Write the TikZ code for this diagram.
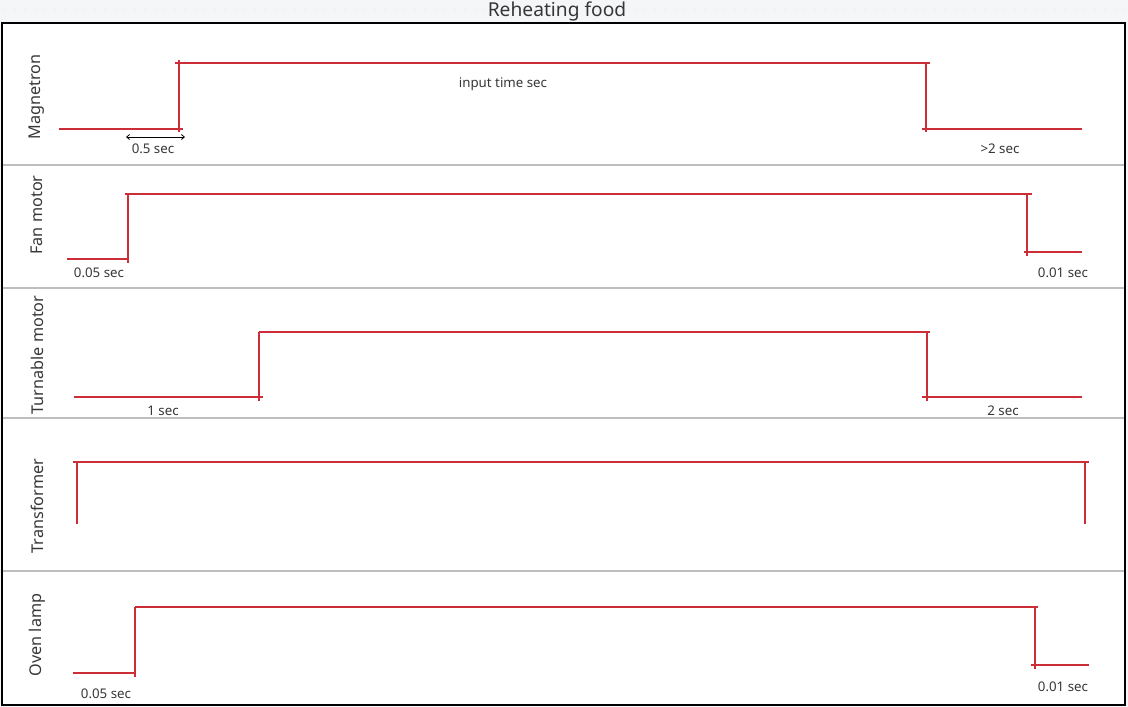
\documentclass[tikz,border=0pt]{standalone}
\usepackage{fontspec}
\setmainfont{Noto Sans}
\usetikzlibrary{arrows.meta}
\definecolor{sigred}{RGB}{205,45,55}
\definecolor{txt}{RGB}{55,55,55}
\definecolor{divgray}{RGB}{190,190,190}
\definecolor{bgtop}{RGB}{245,246,248}
\definecolor{dotc}{RGB}{222,224,228}
\begin{document}
\begin{tikzpicture}[x=1pt,y=-1pt,
  sig/.style={draw=sigred,line width=1.5pt},
  lanelabel/.style={text=txt,font=\fontsize{16.2}{19}\selectfont,rotate=90,inner sep=0pt},
  small/.style={text=txt,font=\fontsize{13.3}{16}\selectfont,inner sep=0pt},
  divider/.style={draw=divgray,line width=1.2pt},
  dimarrow/.style={draw=black,line width=0.8pt,{Straight Barb[length=3pt,width=5pt]}-{Straight Barb[length=3pt,width=5pt]}}]
\useasboundingbox (0,0) rectangle (1128,707);
% background
\fill[bgtop] (0,0) rectangle (1128,707);
\foreach \i in {0,...,112} {\fill[dotc] (5+10*\i,10) circle (0.6pt);}
\fill[white] (2,23) rectangle (1125,705);
% title
\node[text=txt,font=\fontsize{19.2}{23}\selectfont,inner sep=0pt] (title) at (557,11) {Reheating food};
% lane dividers
\draw[divider] (2,165) -- (1125,165);
\draw[divider] (2,288) -- (1125,288);
\draw[divider] (2,418) -- (1125,418);
\draw[divider] (2,571) -- (1125,571);
% frame
\draw[black,line width=1.2pt] (2,23) rectangle (1125,705);
% lane labels
\node[lanelabel] (lmag) at (37,97) {Magnetron};
\node[lanelabel] (lfan) at (37,215) {Fan motor};
\node[lanelabel] (lturn) at (37,355) {Turnable motor};
\node[lanelabel] (ltrans) at (37,506) {Transformer};
\node[lanelabel] (loven) at (37,635) {Oven lamp};
% Magnetron
\draw[sig] (59,129) -- (183,129);
\draw[sig] (179,60) -- (179,132);
\draw[sig] (175,63) -- (930,63);
\draw[sig] (926,62) -- (926,132);
\draw[sig] (922,129) -- (1082,129);
\coordinate (a1) at (126,137);
\coordinate (a2) at (185,137);
\draw[dimarrow] (a1) -- (a2);
\node[small] (t05) at (153,149) {0.5 sec};
\node[small] (tin) at (503,84) {input time sec};
\node[small] (tgt2) at (1000,149) {>2 sec};
% Fan motor
\draw[sig] (67,259) -- (128,259);
\draw[sig] (128,194) -- (128,263);
\draw[sig] (125,194) -- (1032,194);
\draw[sig] (1027,194) -- (1027,256);
\draw[sig] (1024,252) -- (1082,252);
\node[small] (tf1) at (99,273) {0.05 sec};
\node[small] (tf2) at (1063,273) {0.01 sec};
% Turnable motor
\draw[sig] (74,397) -- (263,397);
\draw[sig] (259,332) -- (259,401);
\draw[sig] (259,332) -- (930,332);
\draw[sig] (927,332) -- (927,401);
\draw[sig] (922,397) -- (1082,397);
\node[small] (tt1) at (163,411) {1 sec};
\node[small] (tt2) at (1003,411) {2 sec};
% Transformer
\draw[sig] (77,462) -- (77,524);
\draw[sig] (73,462) -- (1089,462);
\draw[sig] (1085,462) -- (1085,524);
% Oven lamp
\draw[sig] (73,673) -- (136,673);
\draw[sig] (135,607) -- (135,677);
\draw[sig] (135,607) -- (1038,607);
\draw[sig] (1035,607) -- (1035,669);
\draw[sig] (1031,665) -- (1089,665);
\node[small] (to1) at (106,694) {0.05 sec};
\node[small] (to2) at (1063,687) {0.01 sec};
\end{tikzpicture}
\end{document}
